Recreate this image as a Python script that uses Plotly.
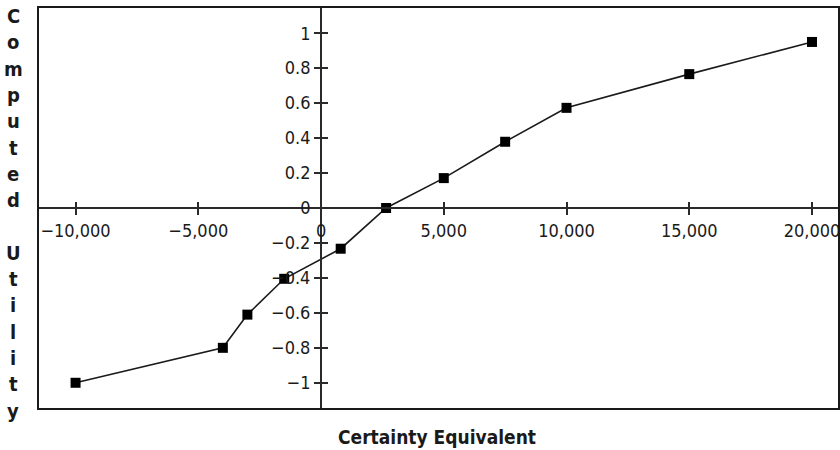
import plotly.graph_objects as go

# Data
certainty_equivalent = [-10000, -4000, -3000, -1500, 800, 2650, 5000, 7500, 10000, 15000, 20000]
computed_utility = [-1.0, -0.80, -0.61, -0.405, -0.233, 0.0, 0.171, 0.379, 0.573, 0.766, 0.95]

x_tickvals = [-10000, -5000, 0, 5000, 10000, 15000, 20000]
x_ticktext = ["\u221210,000", "\u22125,000", "0", "5,000", "10,000", "15,000", "20,000"]
y_tickvals = [-1, -0.8, -0.6, -0.4, -0.2, 0, 0.2, 0.4, 0.6, 0.8, 1]
y_ticktext = ["\u22121", "\u22120.8", "\u22120.6", "\u22120.4", "\u22120.2", "0", "0.2", "0.4", "0.6", "0.8", "1"]

x_title = "Certainty Equivalent"
y_title = "Computed Utility"

XR = [-11530, 21100]
YR = [-1.15, 1.15]
FONT = "DejaVu Sans Condensed, DejaVu Sans, sans-serif"
AX = "#2a2a2a"


def f(size, bold=False):
    return dict(size=size, family=FONT, color="#1a1a1a",
                weight="bold" if bold else "normal")


xpos = (0 - YR[0]) / (YR[1] - YR[0])
ypos = (0 - XR[0]) / (XR[1] - XR[0])

fig = go.Figure()
fig.add_trace(go.Scatter(
    x=certainty_equivalent, y=computed_utility, mode="lines+markers",
    line=dict(color="#1a1a1a", width=1.6),
    marker=dict(symbol="square", size=10, color="#000000"),
    showlegend=False, hoverinfo="x+y"))
# invisible trace on overlay axes (for inside ticks)
fig.add_trace(go.Scatter(
    x=certainty_equivalent, y=computed_utility, mode="markers",
    marker=dict(opacity=0), xaxis="x2", yaxis="y2",
    showlegend=False, hoverinfo="skip"))

common_tick = dict(ticklen=6, tickwidth=1.5, tickcolor=AX)

fig.update_layout(
    width=840, height=450,
    margin=dict(l=38, r=1, t=7, b=41),
    paper_bgcolor="white", plot_bgcolor="white",
    font=f(18),
    xaxis=dict(range=XR, anchor="free", position=xpos, automargin=False,
               tickvals=x_tickvals, ticktext=x_ticktext, ticks="outside",
               ticklabeloverflow="allow",
               tickfont=f(18), showgrid=False, zeroline=False,
               showline=True, linecolor=AX, linewidth=2, **common_tick),
    yaxis=dict(range=YR, anchor="free", position=ypos, automargin=False,
               tickvals=y_tickvals, ticktext=y_ticktext, ticks="outside",
               ticklabeloverflow="allow",
               tickfont=f(18), showgrid=False, zeroline=False,
               showline=True, linecolor=AX, linewidth=2, **common_tick),
    xaxis2=dict(range=XR, overlaying="x", anchor="free", position=xpos,
                tickvals=x_tickvals, ticks="inside", showticklabels=False,
                showgrid=False, zeroline=False, showline=False, **common_tick),
    yaxis2=dict(range=YR, overlaying="y", anchor="free", position=ypos,
                tickvals=y_tickvals, ticks="inside", showticklabels=False,
                showgrid=False, zeroline=False, showline=False, **common_tick),
)

# plot frame
fig.add_shape(type="rect", xref="paper", yref="paper", x0=0, x1=1, y0=0, y1=1,
              line=dict(color="#1a1a1a", width=2), layer="above")

# x title
fig.add_annotation(text=x_title, xref="paper", yref="paper", x=(437 - 38) / 801,
                   y=(409 - 437) / 402, xanchor="center", yanchor="middle",
                   showarrow=False, font=f(19, True))

# vertical stacked y title
letters = list(y_title.replace(" ", "\n"))
for i, ch in enumerate(letters):
    if ch == "\n":
        continue
    py = 16 + i * 26.3
    fig.add_annotation(text=ch, xref="paper", yref="paper",
                       x=(13 - 38) / 801, y=(409 - py) / 402,
                       xanchor="center", yanchor="middle", showarrow=False,
                       font=f(20, True))

post = (
    "document.body.style.margin='0px';"
    "var s=document.createElement('style');"
    "s.textContent='.main-svg text{font-stretch:condensed !important;}';"
    "document.head.appendChild(s);"
)
fig.write_html("out.html", post_script=post, config={"displayModeBar": False})
